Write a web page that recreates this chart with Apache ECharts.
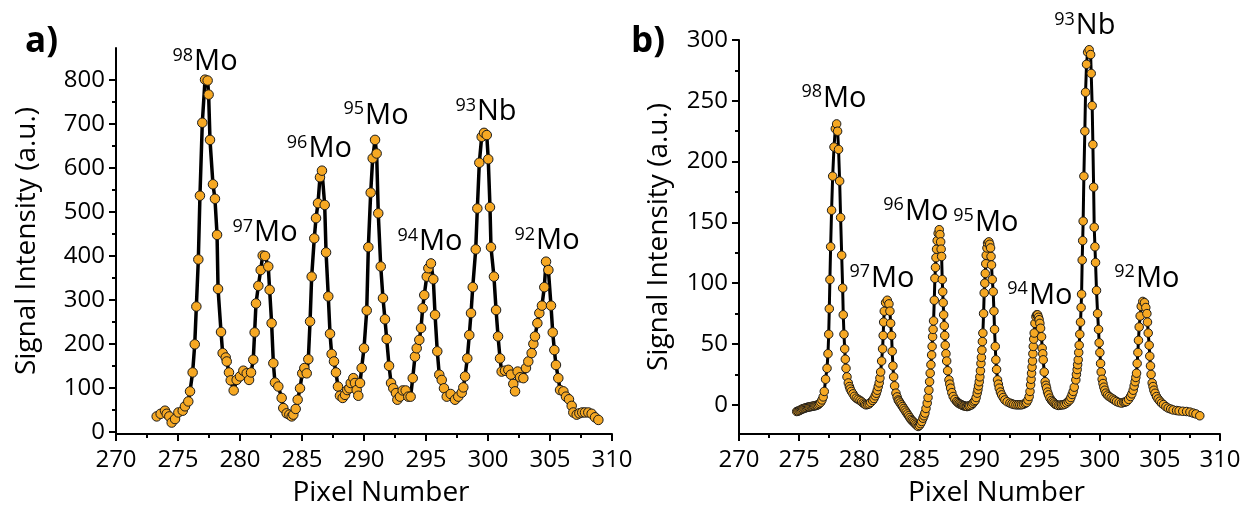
<!DOCTYPE html>
<html><head><meta charset="utf-8">
<script src="https://cdn.jsdelivr.net/npm/echarts@6/dist/echarts.min.js"></script>
<style>html,body{margin:0;padding:0;background:#fff}#c{width:1258px;height:508px}</style>
</head><body><div id="c"></div>
<script>
// ---------- DATA ----------
const pixelA = [273.28,273.6,273.95,274.09,274.3,274.49,274.76,275.03,275.38,275.56,
275.83,275.97,276.18,276.35,276.48,276.64,276.77,276.96,277.18,277.39,
277.47,277.58,277.82,277.98,278.15,278.23,278.47,278.6,278.85,278.93,
279.11,279.25,279.49,279.73,280.0,280.27,280.54,280.73,280.89,281.07,
281.18,281.29,281.48,281.67,281.83,282.02,282.28,282.39,282.55,282.69,
282.82,283.09,283.36,283.49,283.76,283.98,284.17,284.3,284.49,284.65,
284.84,285.02,285.19,285.38,285.51,285.65,285.78,285.99,286.13,286.29,
286.45,286.61,286.83,286.94,287.12,287.26,287.39,287.58,287.74,287.9,
288.06,288.28,288.47,288.65,288.82,288.93,289.14,289.27,289.41,289.54,
289.68,289.81,290.0,290.22,290.35,290.54,290.7,290.89,291.02,291.15,
291.35,291.53,291.69,291.83,292.02,292.18,292.36,292.58,292.69,292.9,
293.12,293.36,293.57,293.76,293.93,294.11,294.25,294.46,294.6,294.73,
294.86,295.06,295.19,295.4,295.59,295.73,295.91,296.07,296.27,296.45,
296.67,296.99,297.34,297.6,297.88,298.01,298.15,298.33,298.49,298.63,
298.77,299.01,299.14,299.3,299.49,299.68,299.9,300.02,300.16,300.24,
300.48,300.65,300.81,300.97,301.1,301.37,301.64,301.85,302.04,302.18,
302.39,302.58,302.85,303.06,303.25,303.52,303.66,303.79,303.98,304.14,
304.35,304.54,304.68,304.87,305.08,305.22,305.35,305.48,305.67,305.81,
306.08,306.29,306.53,306.75,306.88,307.15,307.37,307.6,307.82,308.09,
308.36,308.63,308.9];
const intensityA = [35,41,48,41,35,21,29,44,48,58,
69,92,135,199,285,392,537,703,801,799,
767,664,563,530,448,325,227,179,169,160,
135,117,94,118,126,139,133,118,135,164,
226,292,332,368,401,400,376,323,247,156,
112,103,77,54,42,39,35,39,52,73,
99,133,145,133,165,251,353,440,486,520,
579,594,516,408,308,223,177,160,135,103,
82,77,84,95,99,111,122,111,95,82,
111,145,190,276,420,544,622,664,633,497,
376,304,256,211,150,111,99,88,73,80,
94,94,80,80,122,171,190,209,236,281,
311,353,372,383,347,266,183,130,118,99,
80,86,73,80,89,101,126,167,220,270,
329,415,508,612,671,680,675,620,511,420,
353,277,217,167,137,139,141,130,109,92,
137,124,122,145,160,179,200,217,247,270,
287,329,387,368,287,226,186,152,122,95,
92,80,74,59,44,39,42,44,44,44,
41,33,27];

const pixelB = [274.8,274.9,275.0,275.1,275.2,275.3,275.4,275.5,275.6,275.7,
275.8,275.9,276.0,276.1,276.2,276.3,276.4,276.5,276.6,276.7,
276.8,276.9,277.0,277.09,277.2,277.32,277.4,277.46,277.51,277.56,
277.62,277.7,277.79,277.9,278.01,278.12,278.2,278.28,278.37,278.45,
278.54,278.62,278.67,278.73,278.79,278.84,278.9,278.98,279.09,279.18,
279.25,279.35,279.48,279.6,279.75,279.9,280.06,280.2,280.33,280.45,
280.56,280.7,280.83,280.95,281.11,281.22,281.33,281.42,281.5,281.58,
281.66,281.72,281.78,281.86,281.94,281.99,282.03,282.08,282.19,282.33,
282.47,282.55,282.61,282.69,282.74,282.8,282.86,282.94,283.05,283.15,
283.24,283.3,283.4,283.5,283.6,283.7,283.8,283.9,284.0,284.1,
284.2,284.3,284.4,284.5,284.6,284.7,284.8,284.9,285.0,285.1,
285.19,285.3,285.38,285.46,285.55,285.65,285.72,285.79,285.85,285.9,
285.96,286.02,286.06,286.1,286.14,286.18,286.24,286.29,286.34,286.38,
286.43,286.48,286.56,286.65,286.71,286.77,286.81,286.85,286.9,286.94,
286.98,287.02,287.07,287.11,287.15,287.21,287.27,287.35,287.46,287.53,
287.6,287.7,287.81,287.95,288.1,288.2,288.3,288.4,288.51,288.6,
288.7,288.8,288.9,288.98,289.1,289.2,289.34,289.45,289.55,289.64,
289.72,289.81,289.87,289.92,289.98,290.03,290.08,290.12,290.16,290.2,
290.24,290.28,290.34,290.39,290.44,290.48,290.52,290.56,290.62,290.67,
290.78,290.85,290.92,290.96,291.0,291.06,291.14,291.2,291.25,291.31,
291.36,291.42,291.5,291.57,291.64,291.74,291.84,291.97,292.11,292.3,
292.53,292.7,292.85,293.03,293.2,293.35,293.5,293.65,293.8,293.92,
294.03,294.13,294.2,294.25,294.29,294.33,294.37,294.41,294.44,294.47,
294.51,294.55,294.61,294.69,294.76,294.83,294.9,294.96,295.02,295.08,
295.16,295.21,295.26,295.3,295.38,295.46,295.52,295.58,295.66,295.74,
295.86,295.99,296.1,296.2,296.3,296.41,296.55,296.7,296.83,296.96,
297.1,297.25,297.38,297.51,297.6,297.7,297.79,297.88,298.01,298.06,
298.12,298.16,298.21,298.25,298.29,298.34,298.4,298.45,298.49,298.54,
298.58,298.62,298.68,298.76,298.82,298.9,298.99,299.12,299.24,299.29,
299.37,299.43,299.49,299.54,299.6,299.65,299.73,299.82,299.9,299.95,
300.01,300.07,300.12,300.2,300.27,300.34,300.42,300.51,300.64,300.78,
300.95,301.11,301.25,301.4,301.6,301.81,302.0,302.12,302.23,302.4,
302.56,302.67,302.78,302.86,302.94,303.0,303.06,303.11,303.17,303.22,
303.28,303.36,303.45,303.58,303.72,303.83,303.92,303.97,304.03,304.11,
304.16,304.22,304.27,304.36,304.43,304.5,304.6,304.72,304.85,305.0,
305.14,305.3,305.5,305.69,305.9,306.1,306.39,306.6,306.9,307.22,
307.5,307.77,308.0,308.32];
const intensityB = [-5.5,-5.2,-4.8,-4.3,-3.7,-3.3,-3.0,-2.6,-2.3,-2.0,
-1.8,-1.6,-1.4,-1.2,-1.0,-0.8,-0.6,-0.3,0.3,1.1,
2.2,4.0,6.5,11,21,30,42,58,79,103,
130,160,188,212,227,231,225,210,184,154,
123,96,74,58,46,37.5,30,23,18,15,
13,11,9,7,5.5,4.5,3.6,2.5,1.4,0.6,
0,0.3,0.8,2,3.6,5.2,7.4,9.5,12,15,
18,22,27,36,46,57,68,77,84,86,
83,77,67,57,44,32,23,15.6,9.6,6.5,
4,3,1.5,0,-1.5,-3,-4.5,-6,-7.5,-9,
-10.5,-12,-13,-14,-15,-16,-17,-17.8,-17,-15.5,
-13.7,-11,-9,-6.8,-3,1.4,6,12,19,26,
33,41,48,56,62,69,86,104,113,121,
128,135,141,144,140,134,128,122,103,93,
84,74,65,57,49,42,36,28,20.5,17,
13.7,10,6.8,4.5,2.7,1.8,1,0.5,0,-0.5,
-0.8,-1.1,-1.3,-1.4,-1.0,-0.6,0,1.2,2.5,3.6,
6,9.6,12.5,15.6,19,23,28,34,39,45,
52,59,75,92,100,108,116,123,129,133,
134,132,129,122,115,103,93,77,62,48,
37,29,20.5,17,13.7,10.5,8.2,6,4,2.5,
1.4,0.8,0.3,0,0,0,0,0.5,1.2,1.9,
4,6.8,11,16.4,21,26,31,36,42,48,
54,59,67,72.5,74,74,72,70,67,63,
56,46.6,42,37,27,19,16,13.7,10.5,8.2,
5.5,3.6,2.5,1.5,0.5,0,-0.5,-0.3,0,0,
0.5,1.5,2.8,4,6,8.5,11,14.5,20.5,25,
29,33,37,43,49,58,68,80,91,119,
135,151,188,225,257,280,290,292,288,272.5,
246,214,179,146,130,117,94,75,62,51,
43,34,27,21,17.5,14.5,12,9.6,8,6.8,
5.7,4.7,3.7,2.7,1.9,1.4,2,2.3,2.7,4.5,
6.8,9,12,15.5,19,22.5,26,34,43,53,
64,73,81,85,84,80,75,68,59,49,
40,32,25,18,15,12,9.5,6.8,4.8,3,
1.4,0.2,-1.5,-2.7,-3.5,-4.2,-4.7,-5,-5.3,-5.5,
-6,-6.8,-7.5,-9];

const isotopeMass = ['98','97','96','95','94','93','92'];
const isotopeElem = ['Mo','Mo','Mo','Mo','Mo','Nb','Mo'];
const yTicksA = [0,100,200,300,400,500,600,700,800];
const yMinorA = [50,150,250,350,450,550,650,750];
const yTicksB = [0,50,100,150,200,250,300];
const yMinorB = [25,75,125,175,225,275];
const xTickLabels = [270,275,280,285,290,295,300,305,310];

// label anchors (data coordinates)
const anchorA = [[277.18,841],[282.02,452],[286.4,643],[290.97,720],[295.32,432],[299.84,727],[304.76,434]];
const anchorB = [[277.9,252],[281.89,104],[284.71,159],[290.53,150],[295.02,89.6],[298.76,300],[303.92,104]];

// ---------- CHART ----------
const FONT = '"Open Sans", "Noto Sans", sans-serif';
const zip = (xs, ys) => xs.map((x, i) => [x, ys[i]]);
const tickStyle = {color:'#000', width:2};

function xAxis(gi){
  return {type:'value', gridIndex:gi, min:xTickLabels[0], max:xTickLabels[xTickLabels.length-1], interval:5,
    axisLine:{onZero:false, lineStyle:tickStyle}, axisTick:{length:7, lineStyle:tickStyle},
    minorTick:{show:true, splitNumber:2, length:4, lineStyle:tickStyle},
    splitLine:{show:false}, minorSplitLine:{show:false},
    axisLabel:{color:'#000', fontSize:24, fontFamily:FONT, margin:14},
    name:'Pixel Number', nameLocation:'middle', nameGap:45,
    nameTextStyle:{color:'#000', fontSize:28, fontFamily:FONT, padding:[0,0,0,34]}};
}
function yMain(gi, min, max, ticks, gap){
  return {type:'value', gridIndex:gi, position:'left', min, max,
    axisLine:{show:true, onZero:false, lineStyle:tickStyle},
    axisTick:{show:true, customValues:ticks, length:7, lineStyle:tickStyle},
    axisLabel:{customValues:ticks, color:'#000', fontSize:24, fontFamily:FONT, margin:11},
    splitLine:{show:false},
    name:'Signal Intensity (a.u.)', nameLocation:'middle', nameGap:gap,
    nameTextStyle:{color:'#000', fontSize:28, fontFamily:FONT}};
}
function yMinor(gi, min, max, ticks){
  return {type:'value', gridIndex:gi, position:'left', offset:0, min, max,
    axisLine:{show:false, onZero:false}, axisTick:{show:true, customValues:ticks, length:4, lineStyle:tickStyle},
    axisLabel:{show:false}, splitLine:{show:false}};
}
function marks(anchors, extra){
  return {
    silent:true, symbol:'rect', symbolSize:1, itemStyle:{color:'rgba(0,0,0,0)'},
    label:{show:true, position:'inside', color:'#000',
      rich:{s:{fontSize:18, fontFamily:FONT, color:'#000', padding:[0,1,13,0]},
            m:{fontSize:29, fontFamily:FONT, color:'#000'}}},
    data: anchors.map((c, i) => {
      const d = {coord:c, label:{formatter:'{s|' + isotopeMass[i] + '}{m|' + isotopeElem[i] + '}'}};
      if (extra && extra[i]) d.label.offset = extra[i];
      return d;
    })
  };
}
function lineSeries(xi, yi, data, size, lw, mp){
  return {type:'line', xAxisIndex:xi, yAxisIndex:yi, data, showSymbol:true, showAllSymbol:true,
    symbol:'circle', symbolSize:size,
    itemStyle:{color:'#F6A823', borderColor:'#1a1a1a', borderWidth:1},
    lineStyle:{color:'#000', width:lw}, emphasis:{disabled:true}, markPoint:mp, z:3};
}

const chart = echarts.init(document.getElementById('c'), null, {renderer:'canvas'});
chart.setOption({
  animation:false,
  backgroundColor:'#fff',
  title:[
    {text:'a)', left:20, top:20, textStyle:{fontSize:35, fontWeight:'bold', fontFamily:FONT, color:'#000'}},
    {text:'b)', left:626, top:20, textStyle:{fontSize:35, fontWeight:'bold', fontFamily:FONT, color:'#000'}}
  ],
  grid:[
    {left:116, top:48, width:496, height:386, containLabel:false, outerBoundsMode:'none'},
    {left:739, top:40, width:481, height:394, containLabel:false, outerBoundsMode:'none'}
  ],
  xAxis:[xAxis(0), xAxis(1)],
  yAxis:[yMain(0,-5,873,yTicksA,75), yMinor(0,-5,873,yMinorA),
         yMain(1,-24,300,yTicksB,66), yMinor(1,-24,300,yMinorB)],
  series:[
    lineSeries(0,0,zip(pixelA,intensityA),9.5,3.5,marks(anchorA)),
    lineSeries(1,2,zip(pixelB,intensityB),8.5,3,marks(anchorB,{5:[0,-14]}))
  ]
});
</script>
</body></html>
